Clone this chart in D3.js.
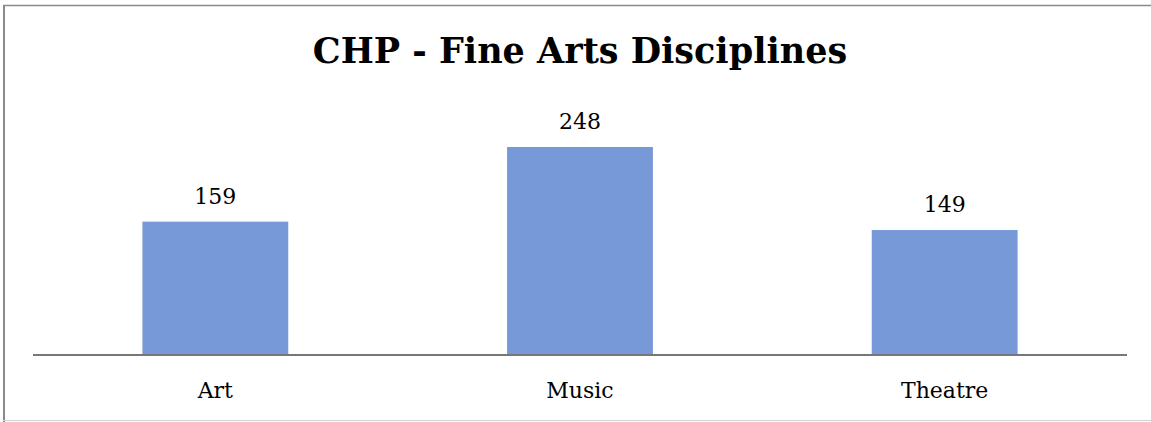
<!DOCTYPE html>
<html>
<head>
<meta charset="utf-8">
<script src="https://cdn.jsdelivr.net/npm/d3@7"></script>
<style>
  body { margin: 0; background: #fff; }
  text { font-family: "DejaVu Serif", "Liberation Serif", serif; fill: #000; }
</style>
</head>
<body>
<div class="chart"></div>
<script>
// Data
const categories = ['Art', 'Music', 'Theatre'];
const values = [159, 248, 149];
const title = 'CHP - Fine Arts Disciplines';

const width = 1151, height = 422;
const baseY = 355;

const svg = d3.select('.chart').append('svg')
    .attr('width', width)
    .attr('height', height);

// Frame
svg.append('line').attr('x1', 3).attr('x2', width).attr('y1', 5.5).attr('y2', 5.5)
    .attr('stroke', '#8a8a8a').attr('stroke-width', 1.5);
svg.append('line').attr('x1', 4).attr('x2', 4).attr('y1', 5).attr('y2', height)
    .attr('stroke', '#8a8a8a').attr('stroke-width', 2);
svg.append('line').attr('x1', 3).attr('x2', width).attr('y1', 420.5).attr('y2', 420.5)
    .attr('stroke', '#d0d0d0').attr('stroke-width', 1);

// Scales
const xScale = d3.scaleBand().domain(categories).range([33, 1127])
    .paddingInner(0.6).paddingOuter(0.3);
const yScale = d3.scaleLinear().domain([0, 300]).range([baseY, baseY - 300 * 208 / 248]);

// Bars
svg.selectAll('.bar')
    .data(values)
    .join('rect')
    .attr('class', 'bar')
    .attr('x', (d, i) => xScale(categories[i]))
    .attr('y', d => yScale(d))
    .attr('width', xScale.bandwidth())
    .attr('height', d => baseY - yScale(d))
    .attr('fill', '#7799d8');

// Value labels
svg.selectAll('.val')
    .data(values)
    .join('text')
    .attr('class', 'val')
    .attr('x', (d, i) => xScale(categories[i]) + xScale.bandwidth() / 2)
    .attr('y', d => yScale(d) - 18)
    .attr('text-anchor', 'middle')
    .style('font-size', '22px')
    .text(d => d);

// X axis
const xAxis = svg.append('g')
    .attr('transform', `translate(0,${baseY})`)
    .call(d3.axisBottom(xScale).tickSize(0).tickPadding(27));
xAxis.select('.domain').attr('stroke', '#777').attr('stroke-width', 2)
    .attr('d', 'M33,0H1127');
xAxis.selectAll('text')
    .style('font-size', '22px')
    .style('font-family', '"DejaVu Serif", serif')
    .attr('fill', '#000');

// Title
svg.append('text')
    .attr('x', 580)
    .attr('y', 63)
    .attr('text-anchor', 'middle')
    .style('font-size', '35px')
    .style('font-weight', 'bold')
    .text(title);
</script>
</body>
</html>
